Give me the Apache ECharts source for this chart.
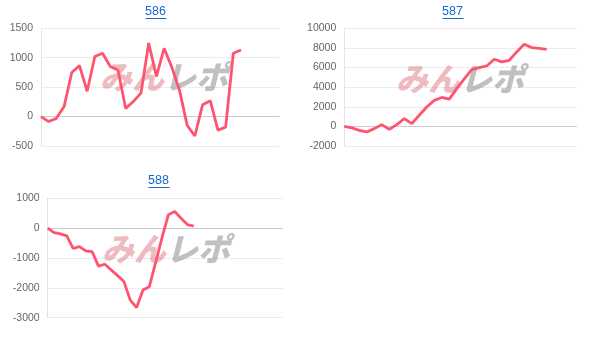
<!DOCTYPE html>
<html><head><meta charset="utf-8">
<script src="https://cdn.jsdelivr.net/npm/echarts@6/dist/echarts.min.js"></script>
<style>html,body{margin:0;padding:0;background:#fff}#c{width:607px;height:351px}</style>
</head><body><div id="c"></div>
<script>
var titles = ['586', '587', '588'];
var values586 = [0, -85, -30, 170, 750, 865, 430, 1020, 1075, 850, 790, 140, 255, 400, 1250, 680, 1160, 840, 450, -150, -330, 200, 270, -230, -180, 1075, 1130];
var values587 = [0, -160, -400, -570, -230, 180, -300, 180, 790, 285, 1130, 1980, 2650, 2950, 2780, 3850, 4850, 5790, 5980, 6160, 6840, 6570, 6740, 7590, 8370, 8030, 7960, 7860];
var values588 = [0, -150, -190, -260, -680, -620, -760, -790, -1270, -1210, -1400, -1590, -1790, -2410, -2660, -2070, -1960, -1150, -320, 450, 560, 330, 120, 70];
var catCount = [32, 32, 38];
var yMin = [-500, -2000, -3000];
var yMax = [1500, 10000, 1000];
var yStep = [500, 2000, 1000];

function cats(n){ var a=[]; for(var i=1;i<=n;i++) a.push(String(i)); return a; }

var grids = [
  {left: 41, top: 28.3, width: 238.5, height: 117.7},
  {left: 344.3, top: 28.3, width: 232.4, height: 117.7},
  {left: 47.7, top: 198.3, width: 235, height: 119.4}
];
var titlePos = [[156, 12.5], [453, 12.5], [159, 181.5]];
var markPos = [[172, 79], [468, 81], [174, 251]];
var series = [values586, values587, values588];

var xAxes = [], yAxes = [], ser = [], graphics = [];
for (var k = 0; k < 3; k++) {
  xAxes.push({
    gridIndex: k, type: 'category', data: cats(catCount[k]), boundaryGap: false,
    axisLine: {show: true, onZero: true, lineStyle: {color: '#cccccc', width: 1}},
    axisTick: {show: false}, axisLabel: {show: false}, splitLine: {show: false}
  });
  yAxes.push({
    gridIndex: k, type: 'value', min: yMin[k], max: yMax[k], interval: yStep[k],
    axisLine: {show: true, lineStyle: {color: '#e4e4e4'}},
    axisTick: {show: false},
    axisLabel: {color: '#666', fontSize: 10.5, fontFamily: 'Liberation Sans, Arial, sans-serif', margin: 8,
      formatter: function (v) { return String(v); }},
    splitLine: {show: true, lineStyle: {color: '#ececec', width: 1}}
  });
  ser.push({
    type: 'line', xAxisIndex: k, yAxisIndex: k, data: series[k], showSymbol: false, symbol: 'none',
    lineStyle: {color: '#ff5470', width: 2.8}, z: 3, animation: false
  });
  graphics.push({
    type: 'text', left: titlePos[k][0] - 11, top: titlePos[k][1] - 7,
    style: {text: titles[k], fill: '#1667c8', font: '12.5px "Liberation Sans", Arial, sans-serif'}
  });
  graphics.push({
    type: 'line', shape: {x1: titlePos[k][0] - 10.5, y1: titlePos[k][1] + 6, x2: titlePos[k][0] + 10.5, y2: titlePos[k][1] + 6},
    style: {stroke: '#1667c8', lineWidth: 1}
  });
  graphics.push({
    type: 'text', left: markPos[k][0] - 72, top: markPos[k][1] - 18, z: 1,
    style: {
      text: '{a|みん}{b|レポ}',
      rich: {
        a: {fill: 'rgba(226,120,130,0.5)', font: 'italic 900 32px "Noto Sans CJK JP", sans-serif'},
        b: {fill: 'rgba(150,150,150,0.6)', font: 'italic 900 32px "Noto Sans CJK JP", sans-serif'}
      }
    }
  });
}

var chart = echarts.init(document.getElementById('c'), null, {renderer: 'canvas'});
chart.setOption({
  animation: false,
  grid: grids,
  xAxis: xAxes,
  yAxis: yAxes,
  series: ser,
  graphic: graphics
});
</script></body></html>
